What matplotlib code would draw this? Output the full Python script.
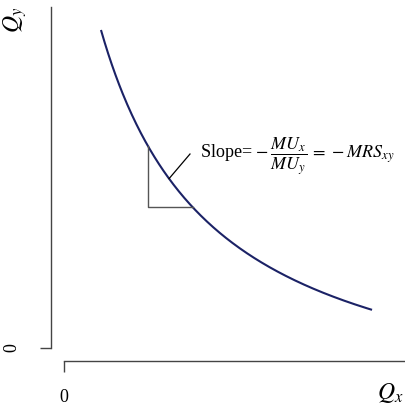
import matplotlib
matplotlib.use("Agg")
import matplotlib.pyplot as plt
import numpy as np

plt.rcParams["font.family"] = ["Liberation Serif", "DejaVu Serif"]
plt.rcParams["mathtext.fontset"] = "stix"

# indifference curve (Qx + a)(Qy + a) = U
shift = 2.5
qx_start, qx_end = 1.2, 10.0
qy_start = 10.0
U = (qx_start + shift) * (qy_start + shift)

# slope triangle and leader line
tri_x = 2.73
tri_y = 4.43
lead_x = 3.41
lead_end = (4.09, 6.10)
label_pos = (4.42, 6.04)

def qy_of(qx):
    return U / (qx + shift) - shift

def qx_of(qy):
    return U / (qy + shift) - shift

qx = np.linspace(qx_start, qx_end, 300)
qy = qy_of(qx)

fig = plt.figure(figsize=(4.05, 4.05), dpi=100)
ax = fig.add_axes([0, 0, 1, 1])
ax.set_xlim(-2.078, 11.07)
ax.set_ylim(-1.792, 10.943)

ax.plot(qx, qy, color="#1b2266", lw=1.5, solid_capstyle="butt")

# triangle
ax.plot([tri_x, tri_x, qx_of(tri_y)], [qy_of(tri_x), tri_y, tri_y],
        color="#555555", lw=1.0)
ax.plot([lead_x, lead_end[0]], [qy_of(lead_x), lead_end[1]], color="black", lw=0.9)

ax.text(label_pos[0], label_pos[1],
        r"Slope=$\,-\dfrac{MU_x}{MU_y}\,=\,-MRS_{xy}$",
        fontsize=13, va="center", ha="left")

# detached axes, R style
for s in ["top", "right"]:
    ax.spines[s].set_visible(False)
ax.spines["left"].set_position(("data", -0.422))
ax.spines["left"].set_bounds(0, 10.72)
ax.spines["bottom"].set_position(("data", -0.409))
ax.spines["bottom"].set_bounds(0, 11.2)
for s in ["left", "bottom"]:
    ax.spines[s].set_color("#444444")
    ax.spines[s].set_linewidth(1.0)

ax.set_xticks([0])
ax.set_xticklabels(["0"])
ax.set_yticks([0])
ax.set_yticklabels(["0"], rotation=90, va="center")
ax.tick_params(axis="both", length=8, width=1.0, color="#444444",
               labelsize=13, pad=12)
ax.tick_params(axis="y", pad=14)

fig.text(15 / 405, 1 - 20 / 405, r"$Q_y$", rotation=90, fontsize=17,
         ha="center", va="center")
fig.text(390 / 405, 1 - 393 / 405, r"$Q_x$", fontsize=17,
         ha="center", va="center")

fig.savefig("out.png", dpi=100)
